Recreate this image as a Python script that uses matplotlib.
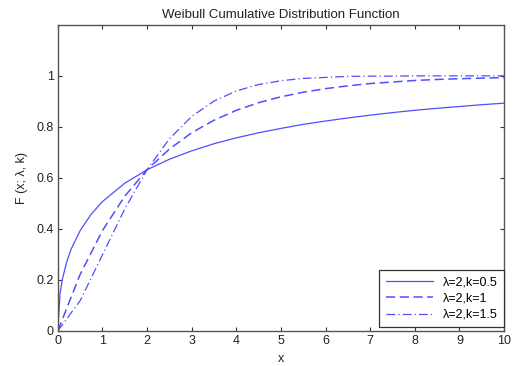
import matplotlib
matplotlib.use("Agg")
import matplotlib.pyplot as plt

# values
x_fine = [0, 0.05, 0.1, 0.2, 0.3, 0.5, 0.75, 1, 1.5, 2, 2.5, 3, 3.5, 4, 4.5, 5,
          5.5, 6, 6.5, 7, 7.5, 8, 8.5, 9, 9.5, 10]
f_k05 = [0, 0.146, 0.200, 0.271, 0.321, 0.393, 0.458, 0.507, 0.579, 0.632, 0.673,
         0.706, 0.734, 0.757, 0.777, 0.794, 0.810, 0.823, 0.835, 0.846, 0.856,
         0.865, 0.873, 0.880, 0.887, 0.893]

x_half = [0, 0.5, 1, 1.5, 2, 2.5, 3, 3.5, 4, 4.5, 5, 5.5, 6, 6.5, 7, 7.5, 8,
          8.5, 9, 9.5, 10]
f_k1 = [0, 0.221, 0.393, 0.528, 0.632, 0.713, 0.777, 0.826, 0.865, 0.895, 0.918,
        0.936, 0.950, 0.961, 0.970, 0.976, 0.982, 0.986, 0.989, 0.991, 0.993]
f_k15 = [0, 0.118, 0.298, 0.478, 0.632, 0.753, 0.841, 0.901, 0.941, 0.966, 0.981,
         0.990, 0.994, 0.998, 0.999, 0.999, 1.0, 1.0, 1.0, 1.0, 1.0]

labels = ["λ=2,k=0.5", "λ=2,k=1", "λ=2,k=1.5"]
color = "#4f4fff"

plt.rcParams["font.family"] = ["Liberation Sans", "DejaVu Sans"]
fig = plt.figure(figsize=(5.16, 3.66), dpi=100)
ax = fig.add_axes([0.112, 0.096, 0.865, 0.836])

ax.plot(x_fine, f_k05, color=color, lw=0.9, ls="-", label=labels[0])
ax.plot(x_half, f_k1, color=color, lw=1.1, ls=(0, (6, 3)), label=labels[1])
ax.plot(x_half, f_k15, color=color, lw=0.9, ls=(0, (7, 2.5, 1, 2.5)), label=labels[2])

ax.set_xlim(0, 10)
ax.set_ylim(0, 1.2)
ax.set_xticks(range(0, 11))
ax.set_yticks([0, 0.2, 0.4, 0.6, 0.8, 1])
ax.set_yticklabels(["0", "0.2", "0.4", "0.6", "0.8", "1"])
ax.tick_params(direction="in", top=True, right=True, labelsize=9, length=3,
               color="#333333", pad=3, labelcolor="#222222")
for s in ax.spines.values():
    s.set_color("#555555")
    s.set_linewidth(1.0)

ax.set_title("Weibull Cumulative Distribution Function", fontsize=9.5, pad=5,
             color="#222222")
ax.set_xlabel("x", fontsize=9, labelpad=4, color="#222222")
ax.set_ylabel("F (x; λ, k)", fontsize=9, labelpad=6, color="#222222")

leg = ax.legend(loc="lower right", bbox_to_anchor=(1.0, 0.012), fontsize=9,
                fancybox=False, edgecolor="#333333", handlelength=3.8,
                handletextpad=0.8, borderaxespad=0, framealpha=1,
                labelspacing=0.35, borderpad=0.5)
leg.get_frame().set_linewidth(0.9)

fig.savefig("out.png", dpi=100)
